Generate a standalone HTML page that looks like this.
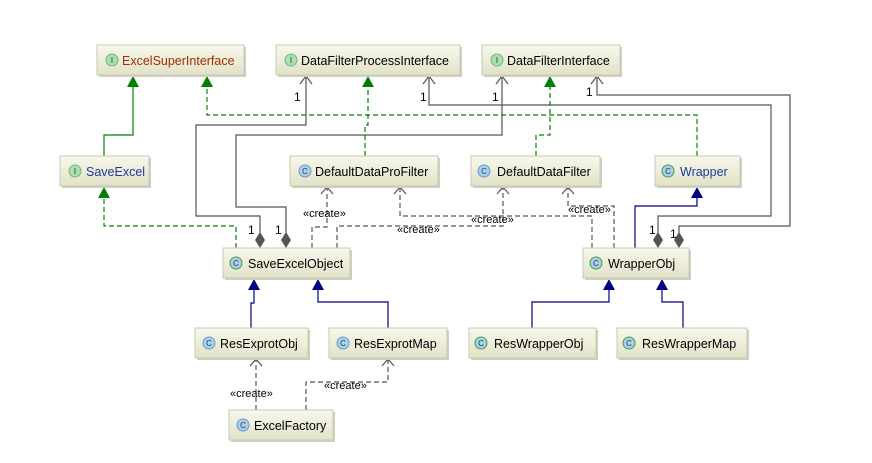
<!DOCTYPE html>
<html><head><meta charset="utf-8"><style>
html,body{margin:0;padding:0;background:#fff;}
svg text{font-family:"Liberation Sans",sans-serif;}
</style></head><body>
<svg width="872" height="458" viewBox="0 0 872 458" xmlns="http://www.w3.org/2000/svg">
<defs>
<linearGradient id="g" x1="0" y1="0" x2="0" y2="1"><stop offset="0" stop-color="#f8f8ec"/><stop offset="1" stop-color="#e2e2c8"/></linearGradient>
</defs>
<g fill="none" stroke-width="1.2">
<path d="M104,156 V135 H133 V80" stroke="#008000"/>
<g stroke="#008000" stroke-dasharray="5,3">
<path d="M236,248 V226 H104 V192"/>
<path d="M697,156 V115 H207 V80"/>
<path d="M365,156 V125 H368 V80"/>
<path d="M536,156 V135 H550 V80"/>
</g>
<g stroke="#555">
<path d="M260,240 V216 H196 V125 H306 V76"/>
<path d="M286,240 V207 H236 V135 H502 V76"/>
<path d="M658,240 V216 H771 V105 H429 V76"/>
<path d="M679,240 V226 H790 V95 H597 V76"/>
<path d="M300,84 L306,76 L312,84 M423,84 L429,76 L435,84 M496,84 L502,76 L508,84 M591,84 L597,76 L603,84"/>
</g>
<g stroke="#000080">
<path d="M635,248 V206 H697 V196"/>
<path d="M532,328 V302 H609 V288"/>
<path d="M683,328 V302 H662 V288"/>
<path d="M251,328 V303 H254 V288"/>
<path d="M388,328 V302 H318 V288"/>
</g>
<g stroke="#555" stroke-dasharray="5,3">
<path d="M312,248 V227 H327 V187"/>
<path d="M337,248 V226 H503 V187"/>
<path d="M592,248 V216 H400 V187"/>
<path d="M614,248 V206 H568 V187"/>
<path d="M256,410 V359"/>
<path d="M306,410 V382 H388 V359"/>
</g>
<g stroke="#555">
<path d="M321,194 L327,187 L333,194 M394,194 L400,187 L406,194 M497,194 L503,187 L509,194 M562,194 L568,187 L574,194 M250,366 L256,359 L262,366 M382,366 L388,359 L394,366"/>
</g>
</g>
<g fill="#008000">
<path d="M127,87 L133,76 L139,87Z M201,87 L207,76 L213,87Z M362,87 L368,76 L374,87Z M544,87 L550,76 L556,87Z M98,198 L104,187 L110,198Z"/>
</g>
<g fill="#000080">
<path d="M691,198 L697,187 L703,198Z M603,290 L609,279 L615,290Z M656,290 L662,279 L668,290Z M248,290 L254,279 L260,290Z M312,290 L318,279 L324,290Z"/>
</g>
<g fill="#555">
<path d="M260,248 L255,240 L260,232 L265,240Z M286,248 L281,240 L286,232 L291,240Z M658,248 L653,240 L658,232 L663,240Z M679,248 L674,240 L679,232 L684,240Z"/>
</g>
<g font-size="12" fill="#000">
<text x="294" y="101">1</text><text x="420" y="101">1</text><text x="492" y="101">1</text><text x="586" y="96">1</text>
<text x="248" y="234">1</text><text x="275" y="234">1</text><text x="649" y="234">1</text><text x="670" y="238">1</text>
</g>
<g font-size="11" fill="#000">
<text x="303" y="217">«create»</text>
<text x="397" y="233">«create»</text>
<text x="471" y="223">«create»</text>
<text x="568" y="213">«create»</text>
<text x="230" y="397">«create»</text>
<text x="324" y="389">«create»</text>
</g>
<g font-size="12.5">
<g><rect x="99" y="47" width="147" height="30" fill="#d0d0c0"/><rect x="97" y="45" width="147" height="30" fill="url(#g)" stroke="#c8c8b4"/><circle cx="112" cy="60" r="6" fill="#a8e0b0" stroke="#70b880"/><text x="112" y="63" font-size="8" text-anchor="middle" fill="#333">I</text><text x="122" y="65" fill="#a03000">ExcelSuperInterface</text></g>
<g><rect x="278" y="47" width="184" height="30" fill="#d0d0c0"/><rect x="276" y="45" width="184" height="30" fill="url(#g)" stroke="#c8c8b4"/><circle cx="291" cy="60" r="6" fill="#a8e0b0" stroke="#70b880"/><text x="291" y="63" font-size="8" text-anchor="middle" fill="#333">I</text><text x="301" y="65" fill="#000">DataFilterProcessInterface</text></g>
<g><rect x="484" y="47" width="138" height="30" fill="#d0d0c0"/><rect x="482" y="45" width="138" height="30" fill="url(#g)" stroke="#c8c8b4"/><circle cx="497" cy="60" r="6" fill="#a8e0b0" stroke="#70b880"/><text x="497" y="63" font-size="8" text-anchor="middle" fill="#333">I</text><text x="507" y="65" fill="#000">DataFilterInterface</text></g>
<g><rect x="62" y="158" width="89" height="30" fill="#d0d0c0"/><rect x="60" y="156" width="89" height="30" fill="url(#g)" stroke="#c8c8b4"/><circle cx="75" cy="171" r="6" fill="#a8e0b0" stroke="#70b880"/><text x="75" y="174" font-size="8" text-anchor="middle" fill="#333">I</text><text x="86" y="176" fill="#1a3aa0">SaveExcel</text></g>
<g><rect x="292" y="158" width="148" height="30" fill="#d0d0c0"/><rect x="290" y="156" width="148" height="30" fill="url(#g)" stroke="#c8c8b4"/><circle cx="305" cy="171" r="6" fill="#a8d0f0" stroke="#6898c8"/><text x="305" y="174" font-size="8" text-anchor="middle" fill="#333">C</text><text x="315" y="176" fill="#000">DefaultDataProFilter</text></g>
<g><rect x="473" y="158" width="129" height="30" fill="#d0d0c0"/><rect x="471" y="156" width="129" height="30" fill="url(#g)" stroke="#c8c8b4"/><circle cx="484" cy="171" r="6" fill="#a8d0f0" stroke="#6898c8"/><text x="484" y="174" font-size="8" text-anchor="middle" fill="#333">C</text><text x="497" y="176" fill="#000">DefaultDataFilter</text></g>
<g><rect x="657" y="158" width="85" height="30" fill="#d0d0c0"/><rect x="655" y="156" width="85" height="30" fill="url(#g)" stroke="#c8c8b4"/><circle cx="668" cy="171" r="6" fill="#a8d0f0" stroke="#40a040"/><text x="668" y="174" font-size="8" text-anchor="middle" fill="#333">C</text><text x="680" y="176" fill="#1a3aa0">Wrapper</text></g>
<g><rect x="225" y="250" width="127" height="30" fill="#d0d0c0"/><rect x="223" y="248" width="127" height="30" fill="url(#g)" stroke="#c8c8b4"/><circle cx="236" cy="263" r="6" fill="#a8d0f0" stroke="#40a040"/><text x="236" y="266" font-size="8" text-anchor="middle" fill="#333">C</text><text x="248" y="268" fill="#000">SaveExcelObject</text></g>
<g><rect x="585" y="250" width="106" height="30" fill="#d0d0c0"/><rect x="583" y="248" width="106" height="30" fill="url(#g)" stroke="#c8c8b4"/><circle cx="596" cy="263" r="6" fill="#a8d0f0" stroke="#40a040"/><text x="596" y="266" font-size="8" text-anchor="middle" fill="#333">C</text><text x="608" y="268" fill="#000">WrapperObj</text></g>
<g><rect x="197" y="330" width="113" height="30" fill="#d0d0c0"/><rect x="195" y="328" width="113" height="30" fill="url(#g)" stroke="#c8c8b4"/><circle cx="209" cy="343" r="6" fill="#a8d0f0" stroke="#6898c8"/><text x="209" y="346" font-size="8" text-anchor="middle" fill="#333">C</text><text x="220" y="348" fill="#000">ResExprotObj</text></g>
<g><rect x="331" y="330" width="118" height="30" fill="#d0d0c0"/><rect x="329" y="328" width="118" height="30" fill="url(#g)" stroke="#c8c8b4"/><circle cx="343" cy="343" r="6" fill="#a8d0f0" stroke="#6898c8"/><text x="343" y="346" font-size="8" text-anchor="middle" fill="#333">C</text><text x="354" y="348" fill="#000">ResExprotMap</text></g>
<g><rect x="471" y="330" width="127" height="30" fill="#d0d0c0"/><rect x="469" y="328" width="127" height="30" fill="url(#g)" stroke="#c8c8b4"/><circle cx="481" cy="343" r="6" fill="#a8d0f0" stroke="#40a040"/><text x="481" y="346" font-size="8" text-anchor="middle" fill="#333">C</text><text x="494" y="348" fill="#000">ResWrapperObj</text></g>
<g><rect x="619" y="330" width="130" height="30" fill="#d0d0c0"/><rect x="617" y="328" width="130" height="30" fill="url(#g)" stroke="#c8c8b4"/><circle cx="629" cy="343" r="6" fill="#a8d0f0" stroke="#40a040"/><text x="629" y="346" font-size="8" text-anchor="middle" fill="#333">C</text><text x="642" y="348" fill="#000">ResWrapperMap</text></g>
<g><rect x="231" y="412" width="104" height="30" fill="#d0d0c0"/><rect x="229" y="410" width="104" height="30" fill="url(#g)" stroke="#c8c8b4"/><circle cx="243" cy="425" r="6" fill="#a8d0f0" stroke="#6898c8"/><text x="243" y="428" font-size="8" text-anchor="middle" fill="#333">C</text><text x="254" y="430" fill="#000">ExcelFactory</text></g>
</g>
</svg>
</body></html>
